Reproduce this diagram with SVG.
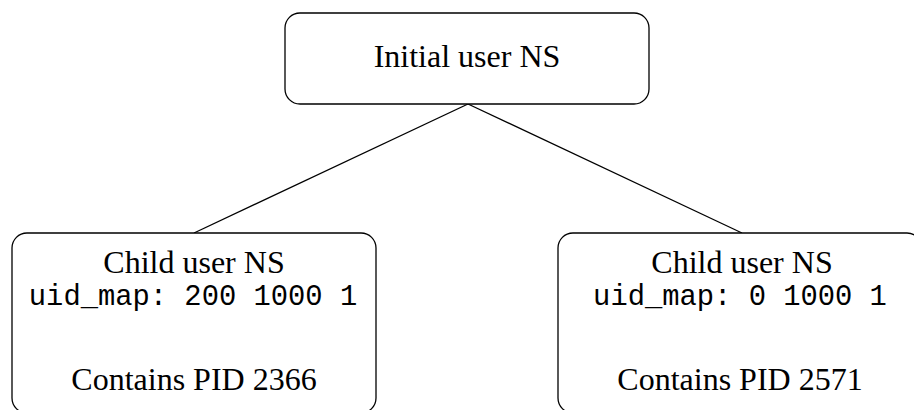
<svg xmlns="http://www.w3.org/2000/svg" width="914" height="410" viewBox="0 0 914 410">
<style>
.box{fill:#fff;stroke:#000;stroke-width:1.3}
.conn{stroke:#000;stroke-width:1.3;fill:none}
.serif{font-family:"Liberation Serif","Times New Roman",serif;font-size:32px;fill:#000;text-anchor:middle}
.mono{font-family:"Liberation Mono","Courier New",monospace;font-size:28.8px;fill:#000;text-anchor:middle}
</style>
<rect width="914" height="410" fill="#fff"/>
<g id="connectors">
<line class="conn" x1="468" y1="104" x2="194" y2="233"/>
<line class="conn" x1="468" y1="104" x2="742" y2="233"/>
</g>
<g id="initial">
<rect class="box" x="285" y="13" width="364" height="91" rx="15" ry="15"/>
<text class="serif" x="467" y="67">Initial user NS</text>
</g>
<g id="child1">
<rect class="box" x="12" y="233" width="364" height="180" rx="15" ry="15"/>
<text class="serif" x="194" y="273">Child user NS</text>
<text class="mono" x="193" y="305">uid_map: 200 1000 1</text>
<text class="serif" x="194" y="390">Contains PID 2366</text>
</g>
<g id="child2">
<rect class="box" x="558" y="233" width="364" height="180" rx="15" ry="15"/>
<text class="serif" x="742" y="273">Child user NS</text>
<text class="mono" x="740" y="305">uid_map: 0 1000 1</text>
<text class="serif" x="740" y="390">Contains PID 2571</text>
</g>
</svg>
